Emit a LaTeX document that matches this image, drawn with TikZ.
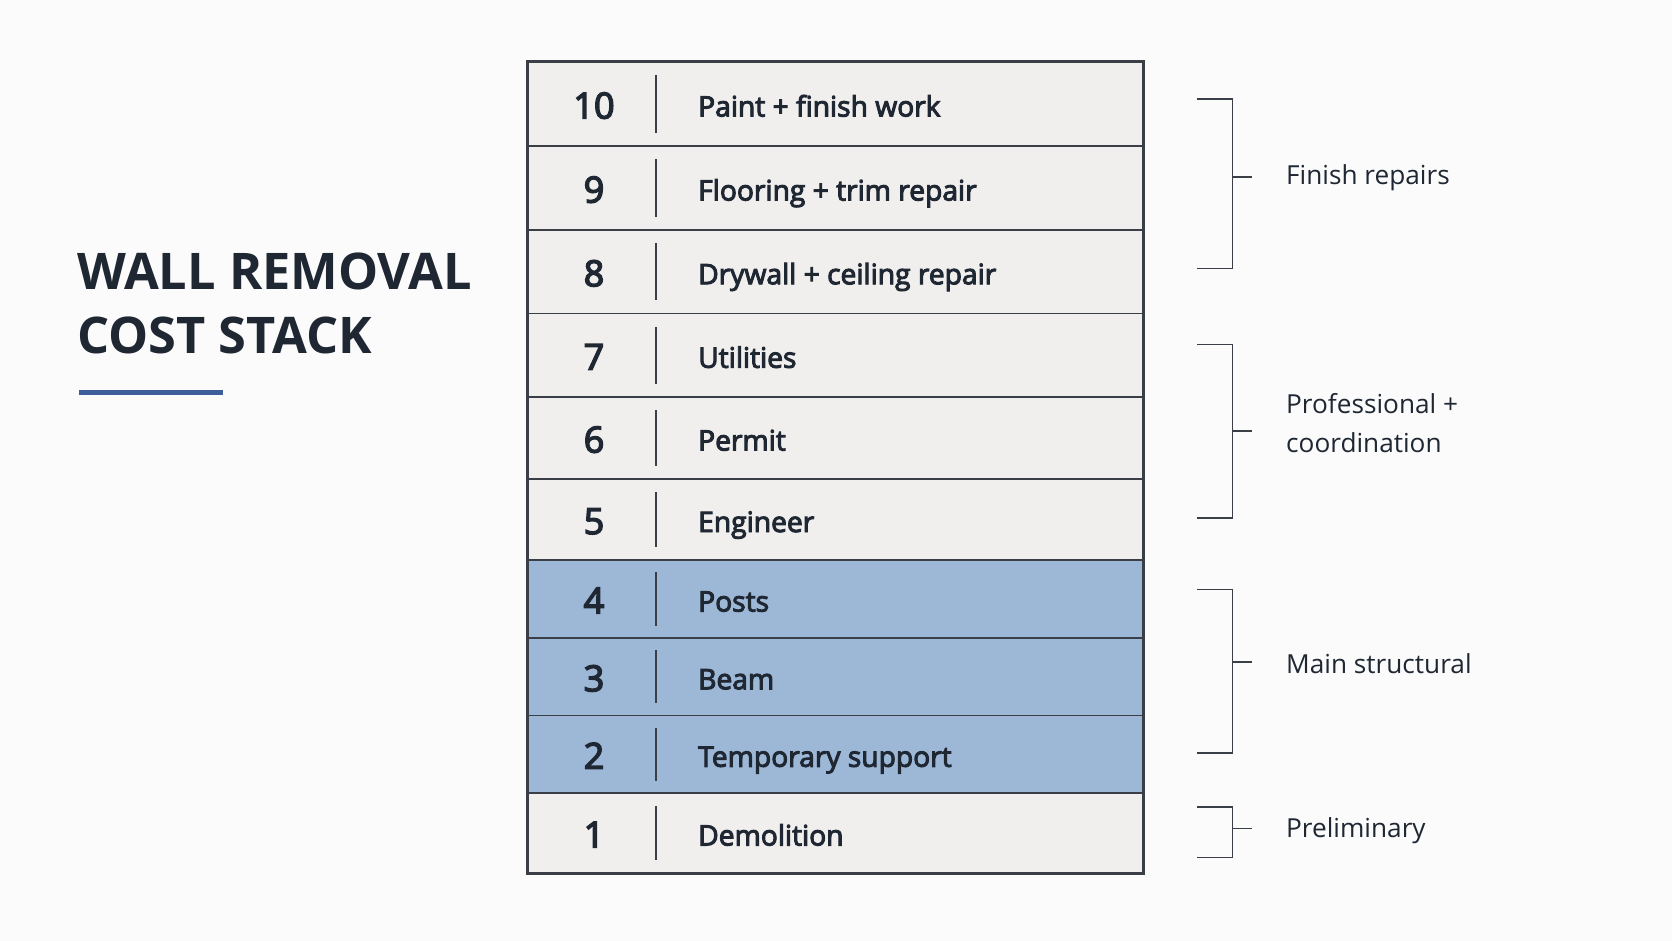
\documentclass[tikz,border=0pt]{standalone}
\usepackage{fontspec}
\setmainfont{Open Sans}
\newfontfamily\medfont[FakeBold=3.5]{Open Sans}
\newfontfamily\numfont[FakeBold=4]{Open Sans}
\usepackage{xcolor}
\usetikzlibrary{positioning}

\definecolor{bgcol}{HTML}{FBFBFB}
\definecolor{rowgray}{HTML}{F0EFED}
\definecolor{rowblue}{HTML}{9DB8D7}
\definecolor{linecol}{HTML}{3A3F47}
\definecolor{inkcol}{HTML}{1F2733}
\definecolor{accent}{HTML}{3D5E98}

\begin{document}
\begin{tikzpicture}[
    x=1pt, y=-1pt,
    rowbox/.style={draw=linecol, line width=1.3pt, minimum width=615pt, inner sep=0pt},
    numtxt/.style={font=\numfont\fontsize{36}{40}\selectfont, text=inkcol, anchor=base, inner sep=0pt},
    rowtxt/.style={font=\medfont\fontsize{28.2}{32}\selectfont, text=inkcol, anchor=base west, inner sep=0pt},
    grouptxt/.style={font=\fontsize{26.2}{39}\selectfont, text=inkcol, anchor=west, align=left, inner sep=0pt},
    divider/.style={draw=linecol, line width=1.2pt},
    bracket/.style={draw=linecol, line width=1.6pt},
    titletxt/.style={font=\bfseries\fontsize{50.5}{64}\selectfont, text=inkcol, anchor=base west, inner sep=0pt}
]
\useasboundingbox[fill=bgcol] (0,0) rectangle (1672,941);

% title
\node[titletxt] (title1) at (77,289) {WALL REMOVAL};
\node[titletxt] (title2) at (77,353) {COST STACK};
\draw[accent, line width=4.5pt] (79,392.5) -- (223,392.5);

% cost rows
\foreach \i/\t/\b/\fc/\txt in {
    10/62/146/rowgray/{Paint + finish work},
    9/146/230/rowgray/{Flooring + trim repair},
    8/230/313.5/rowgray/{Drywall + ceiling repair},
    7/313.5/397/rowgray/{Utilities},
    6/397/479/rowgray/{Permit},
    5/479/560/rowgray/{Engineer},
    4/560/638/rowblue/{Posts},
    3/638/715.5/rowblue/{Beam},
    2/715.5/793/rowblue/{Temporary support},
    1/793/873/rowgray/{Demolition}}{
  \node[rowbox, fill=\fc, minimum height={(\b-\t)*1pt}] (row\i) at (835.5,{(\t+\b)/2}) {};
  \node[numtxt] (num\i) at (594,{(\t+\b)/2+14.5}) {\i};
  \node[rowtxt] (lab\i) at (698,{(\t+\b)/2+12.5}) {\txt};
  \draw[divider] (656,{\t+0.16*(\b-\t)}) -- (656,{\b-0.16*(\b-\t)});
}
\draw[linecol, line width=2pt] (row10.north west) rectangle (row1.south east);

% group brackets
\draw[bracket] (1197,99) -- (1232.5,99) -- (1232.5,268.5) -- (1197,268.5);
\draw[bracket] (1232.5,177) -- (1252,177);
\node[grouptxt] (grp1) at (1286,178) {Finish repairs};

\draw[bracket] (1197,344.5) -- (1232.5,344.5) -- (1232.5,518) -- (1197,518);
\draw[bracket] (1232.5,431) -- (1252,431);
\node[grouptxt] (grp2) at (1286,423) {Professional +\\coordination};

\draw[bracket] (1197,589.5) -- (1232.5,589.5) -- (1232.5,753) -- (1197,753);
\draw[bracket] (1232.5,662) -- (1252,662);
\node[grouptxt] (grp3) at (1286,664) {Main structural};

\draw[bracket] (1197,807) -- (1232.5,807) -- (1232.5,857.5) -- (1197,857.5);
\draw[bracket] (1232.5,828.5) -- (1252,828.5);
\node[grouptxt] (grp4) at (1286,831) {Preliminary};
\end{tikzpicture}
\end{document}
